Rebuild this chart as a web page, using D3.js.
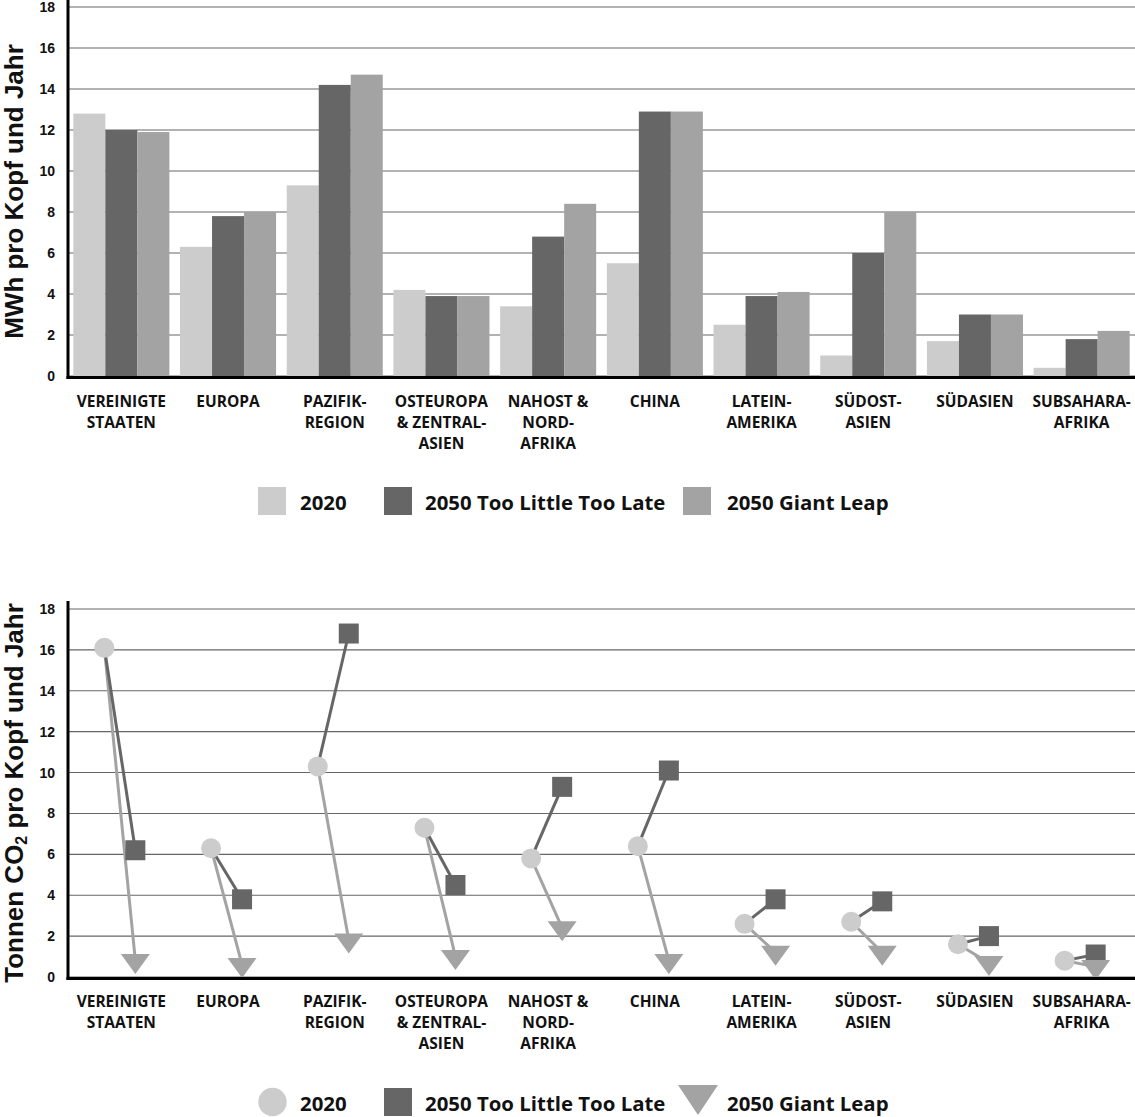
<!DOCTYPE html>
<html>
<head>
<meta charset="utf-8">
<script src="https://cdn.jsdelivr.net/npm/d3@7"></script>
<style>
  html, body { margin: 0; padding: 0; background: #fff; }
  svg { display: block; }
</style>
</head>
<body>
<svg id="chart" width="1135" height="1117"></svg>
<script>
// ---------- DATA ----------
const categories = ["VS", "EU", "PAZ", "OST", "NAH", "CHN", "LAT", "SOA", "SAS", "SSA"];
const categoryLabels = [
  ["VEREINIGTE", "STAATEN"],
  ["EUROPA"],
  ["PAZIFIK-", "REGION"],
  ["OSTEUROPA", "& ZENTRAL-", "ASIEN"],
  ["NAHOST &", "NORD-", "AFRIKA"],
  ["CHINA"],
  ["LATEIN-", "AMERIKA"],
  ["SÜDOST-", "ASIEN"],
  ["SÜDASIEN"],
  ["SUBSAHARA-", "AFRIKA"]
];
const seriesNames = ["2020", "2050 Too Little Too Late", "2050 Giant Leap"];

// MWh per capita and year
const energy2020 = [12.8, 6.3, 9.3, 4.2, 3.4, 5.5, 2.5, 1.0, 1.7, 0.4];
const energyTLTL = [12.0, 7.8, 14.2, 3.9, 6.8, 12.9, 3.9, 6.0, 3.0, 1.8];
const energyGL   = [11.9, 8.0, 14.7, 3.9, 8.4, 12.9, 4.1, 8.0, 3.0, 2.2];

// t CO2 per capita and year
const co2_2020 = [16.1, 6.3, 10.3, 7.3, 5.8, 6.4, 2.6, 2.7, 1.6, 0.8];
const co2TLTL  = [6.2, 3.8, 16.8, 4.5, 9.3, 10.1, 3.8, 3.7, 2.0, 1.1];
const co2GL    = [0.8, 0.6, 1.8, 1.0, 2.4, 0.8, 1.2, 1.2, 0.7, 0.5];

const yTicks = [0, 2, 4, 6, 8, 10, 12, 14, 16, 18];

// ---------- STYLE ----------
const colors = ["#cccccc", "#666666", "#a3a3a3"];
const labelFont = "'Open Sans', 'Liberation Sans', sans-serif";
const tickFont = "'Liberation Sans', Arimo, Arial, Helvetica, sans-serif";

const svg = d3.select("#chart");
const W = 1135;

const x = d3.scaleBand().domain(categories).range([68, W]).paddingInner(0.1).paddingOuter(0.05);

function drawFrame(g, y, labelBase, title) {
  // gridlines
  g.append("g").selectAll("line").data(yTicks).join("line")
    .attr("x1", 68).attr("x2", W)
    .attr("y1", d => y(d)).attr("y2", d => y(d))
    .attr("stroke", "#666").attr("stroke-width", 1.1);
  // tick labels
  g.append("g").selectAll("text").data(yTicks).join("text")
    .attr("x", 55).attr("y", d => y(d)).attr("dy", "0.36em")
    .attr("text-anchor", "end")
    .attr("font-family", tickFont).attr("font-weight", "bold").attr("font-size", 14)
    .attr("fill", "#111")
    .text(d => d);
  // category labels
  const cl = g.append("g");
  categories.forEach((c, i) => {
    const cx = x(c) + x.bandwidth() / 2;
    const t = cl.append("text")
      .attr("x", cx)
      .attr("y", labelBase)
      .attr("text-anchor", "middle")
      .attr("font-family", labelFont).attr("font-weight", "bold").attr("font-size", 15.5)
      .attr("fill", "#111");
    categoryLabels[i].forEach((ln, j) => {
      t.append("tspan").attr("x", cx).attr("y", labelBase + j * 21).text(ln);
    });
  });
  // title
  const yMid = (y(0) + y(18)) / 2;
  const tt = g.append("text")
    .attr("transform", `translate(23,${yMid}) rotate(-90)`)
    .attr("text-anchor", "middle")
    .attr("font-family", tickFont).attr("font-weight", "bold").attr("font-size", 26)
    .attr("fill", "#111");
  title.forEach(part => {
    if (part.sub) {
      tt.append("tspan").attr("font-size", 16).attr("dy", 4).text(part.t);
    } else {
      tt.append("tspan").attr("dy", part.reset ? -4 : 0).text(part.t);
    }
  });
}

function drawAxes(g, y, top) {
  g.append("line").attr("x1", 68).attr("x2", 68).attr("y1", top).attr("y2", y(0) + 3)
    .attr("stroke", "#000").attr("stroke-width", 3);
  g.append("line").attr("x1", 66.5).attr("x2", W).attr("y1", y(0) + 1.5).attr("y2", y(0) + 1.5)
    .attr("stroke", "#000").attr("stroke-width", 3);
}

// ---------- TOP CHART: bars ----------
const yTop = d3.scaleLinear().domain([0, 18]).range([376, 7]);
const gTop = svg.append("g");
drawFrame(gTop, yTop, 407, [{t: "MWh pro Kopf und Jahr"}]);

const x1 = d3.scaleBand().domain(seriesNames).range([0, x.bandwidth()]).padding(0);
const energySeries = [energy2020, energyTLTL, energyGL];
energySeries.forEach((vals, s) => {
  gTop.append("g").selectAll("rect").data(vals).join("rect")
    .attr("x", (d, i) => x(categories[i]) + x1(seriesNames[s]))
    .attr("width", x1.bandwidth())
    .attr("y", d => yTop(d))
    .attr("height", d => yTop(0) - yTop(d))
    .attr("fill", colors[s]);
});
drawAxes(gTop, yTop, 0);

// legend helpers
const legendX = [258, 384, 683];
const legendTextX = [300, 425, 727];
function drawLegend(g, cy, shapes) {
  seriesNames.forEach((name, i) => {
    const lx = legendX[i];
    if (shapes[i] === "rect") {
      g.append("rect").attr("x", lx).attr("y", cy - 14).attr("width", 28).attr("height", 28).attr("fill", colors[i]);
    } else if (shapes[i] === "circle") {
      g.append("circle").attr("cx", lx + 14.5).attr("cy", cy).attr("r", 14.2).attr("fill", colors[i]);
    } else {
      g.append("path").attr("d", `M${lx - 5},${cy - 17} L${lx + 35},${cy - 17} L${lx + 15},${cy + 13} Z`).attr("fill", colors[i]);
    }
    g.append("text").attr("x", legendTextX[i]).attr("y", cy + 8.5)
      .attr("font-family", labelFont).attr("font-weight", "bold").attr("font-size", 20.4)
      .attr("fill", "#111").text(name);
  });
}
drawLegend(svg.append("g"), 501, ["rect", "rect", "rect"]);

// ---------- BOTTOM CHART: dumbbells ----------
const yBot = d3.scaleLinear().domain([0, 18]).range([977, 609]);
const gBot = svg.append("g");
drawFrame(gBot, yBot, 1007, [{t: "Tonnen CO"}, {t: "2", sub: true}, {t: " pro Kopf und Jahr", reset: true}]);

const xp = d3.scalePoint().domain(["2020", "2050"]).range([0, x.bandwidth()]).padding(1);
const pts = categories.map((c, i) => ({
  x0: x(c) + xp("2020") - 1,
  x1: x(c) + xp("2050") - 2,
  a: co2_2020[i], b: co2TLTL[i], gl: co2GL[i]
}));

gBot.append("g").selectAll("line").data(pts).join("line")
  .attr("x1", d => d.x0).attr("y1", d => yBot(d.a))
  .attr("x2", d => d.x1).attr("y2", d => yBot(d.gl))
  .attr("stroke", "#a3a3a3").attr("stroke-width", 3);
gBot.append("g").selectAll("line").data(pts).join("line")
  .attr("x1", d => d.x0).attr("y1", d => yBot(d.a))
  .attr("x2", d => d.x1).attr("y2", d => yBot(d.b))
  .attr("stroke", "#666666").attr("stroke-width", 3);
gBot.append("g").selectAll("rect").data(pts).join("rect")
  .attr("x", d => d.x1 - 10).attr("y", d => yBot(d.b) - 10)
  .attr("width", 20).attr("height", 20).attr("fill", colors[1]);
const triW = 29, triH = 20;
gBot.append("g").selectAll("path").data(pts).join("path")
  .attr("d", d => {
    const cx = d.x1, cy = yBot(d.gl);
    return `M${cx - triW / 2},${cy - triH / 3} L${cx + triW / 2},${cy - triH / 3} L${cx},${cy + 2 * triH / 3} Z`;
  })
  .attr("fill", colors[2]);
gBot.append("g").selectAll("circle").data(pts).join("circle")
  .attr("cx", d => d.x0).attr("cy", d => yBot(d.a)).attr("r", 10)
  .attr("fill", colors[0]);
drawAxes(gBot, yBot, 601);

drawLegend(svg.append("g"), 1102, ["circle", "rect", "tri"]);
</script>
</body>
</html>
